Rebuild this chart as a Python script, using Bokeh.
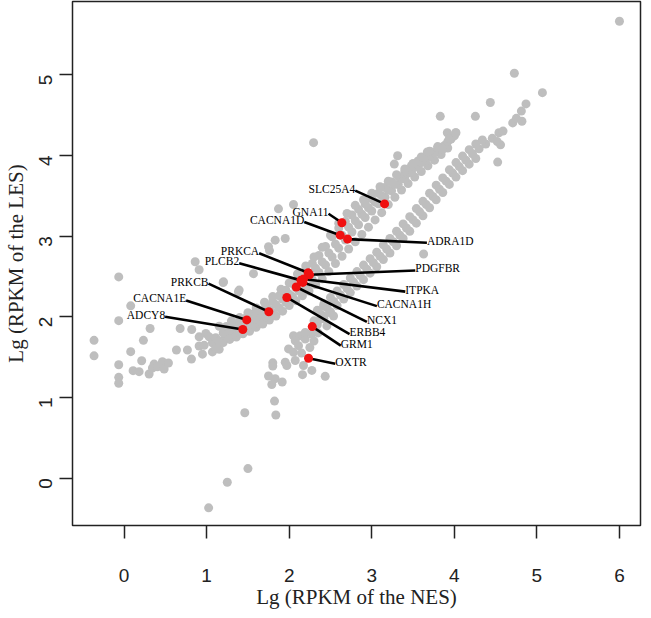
import math
from bokeh.plotting import figure
from bokeh.models import Range1d, FixedTicker, ColumnDataSource
from bokeh.embed import file_html
from bokeh.resources import INLINE
from bokeh.core.properties import value

# ---------------- data ----------------
# sparse genes left of / below the upper band
sparse_x = [-0.364, -0.364, -0.065, -0.065, -0.065, -0.065, -0.065, 0.08, 0.08, 0.109, 0.182, 0.213, 0.234, 0.303,
            0.315, 0.343, 0.364, 0.404, 0.464, 0.485, 0.537, 0.634, 0.679, 0.767, 0.816, 0.819, 0.909, 0.909, 0.949,
            0.97, 0.99, 1.03, 1.07, 1.07, 1.11, 1.11, 1.152, 1.152, 1.152, 1.212, 1.232, 1.273, 1.313, 1.353, 1.434]
sparse_y = [1.708, 1.516, 2.494, 1.952, 1.406, 1.25, 1.177, 2.136, 1.568, 1.333, 1.32, 1.455, 1.708, 1.292,
            1.855, 1.366, 1.414, 1.381, 1.443, 1.353, 1.427, 1.589, 1.855, 1.589, 1.476, 1.842, 1.752, 1.638, 1.537,
            1.646, 1.793, 1.752, 1.678, 1.565, 1.74, 1.617, 1.699, 1.598, 1.883, 1.72, 1.842, 1.793, 1.862, 1.781, 1.793]

# upper (LES-enriched) band
upper_x = [1.20, 1.28, 1.36, 1.44, 1.52, 1.60, 1.68, 1.76, 1.84, 1.92, 2.00, 2.08, 2.16, 2.24, 2.32, 2.40, 2.48,
           2.56, 2.64, 2.72, 2.80, 2.88, 2.96, 3.04, 3.12, 3.20, 3.28, 3.36, 3.44, 3.52, 3.60, 3.68, 3.76, 3.84,
           3.92,
           1.24, 1.32, 1.40, 1.48, 1.56, 1.64, 1.72, 1.80, 1.88, 1.96, 2.04, 2.12, 2.20, 2.28, 2.36, 2.44, 2.52,
           2.60, 2.68, 2.76, 2.84, 2.92, 3.00, 3.08, 3.16, 3.24, 3.32, 3.40, 3.48, 3.56, 3.64, 3.72, 3.80, 3.88,
           3.96,
           1.20, 1.28, 1.36, 1.44, 1.52, 1.60, 1.68, 1.76, 1.84, 1.92, 2.00, 2.08, 2.16, 2.24, 2.32, 2.40, 2.48,
           2.56, 2.64, 2.72, 2.80, 2.88, 2.96, 3.04, 3.12, 3.20, 3.28, 3.36, 3.44, 3.52, 3.60, 3.68, 3.76, 3.84,
           3.92, 4.00,
           1.24, 1.32, 1.40, 1.48, 1.56, 1.64, 1.72, 1.80, 1.88, 1.96, 2.04, 2.12, 2.20, 2.28, 2.36, 2.44, 2.52,
           2.60, 2.68, 2.76, 2.84, 2.92, 3.00, 3.08, 3.16, 3.24, 3.32, 3.40, 3.48, 3.56, 3.64, 3.72, 3.80,
           1.30, 1.40, 1.50, 1.60, 1.70, 1.80, 1.90, 2.00, 2.10, 2.20, 2.30, 2.40, 2.50, 2.60, 2.70, 2.80, 2.90,
           3.00, 3.10, 3.20, 3.30, 3.40, 3.50, 3.60, 3.70,
           3.915, 3.94, 3.798, 3.858, 3.673, 4.02]
upper_y = [1.68, 1.72, 1.75, 1.79, 1.82, 1.87, 1.91, 1.96, 2.01, 2.07, 2.14, 2.20, 2.26, 2.32, 2.40, 2.47, 2.56,
           2.66, 2.75, 2.84, 2.93, 3.02, 3.11, 3.20, 3.29, 3.39, 3.48, 3.57, 3.65, 3.73, 3.80, 3.87, 3.94, 4.01,
           4.09,
           1.75, 1.78, 1.82, 1.86, 1.90, 1.95, 2.00, 2.05, 2.11, 2.18, 2.25, 2.32, 2.38, 2.46, 2.55, 2.64, 2.74,
           2.85, 2.95, 3.05, 3.14, 3.23, 3.31, 3.40, 3.48, 3.56, 3.64, 3.71, 3.79, 3.86, 3.92, 3.99, 4.05, 4.12,
           4.20,
           1.80, 1.83, 1.87, 1.90, 1.94, 1.99, 2.04, 2.09, 2.15, 2.22, 2.28, 2.36, 2.43, 2.51, 2.60, 2.68, 2.79,
           2.90, 3.01, 3.11, 3.19, 3.27, 3.35, 3.42, 3.50, 3.57, 3.64, 3.71, 3.78, 3.85, 3.91, 3.97, 4.03, 4.10,
           4.17, 4.24,
           1.88, 1.91, 1.95, 1.99, 2.03, 2.08, 2.13, 2.19, 2.26, 2.33, 2.41, 2.49, 2.57, 2.66, 2.76, 2.87, 2.99,
           3.10, 3.18, 3.26, 3.33, 3.40, 3.46, 3.53, 3.60, 3.67, 3.74, 3.80, 3.87, 3.93, 3.98, 4.04, 4.09,
           1.95, 1.99, 2.05, 2.11, 2.18, 2.25, 2.34, 2.42, 2.53, 2.63, 2.74, 2.86, 3.01, 3.16, 3.28, 3.38, 3.45,
           3.53, 3.61, 3.68, 3.76, 3.83, 3.90, 3.98, 4.05,
           4.279, 4.205, 4.108, 4.075, 4.042, 4.28]

# lower (NES-enriched) band
lower_x = [2.34, 2.42, 2.50, 2.58, 2.66, 2.74, 2.82, 2.90, 2.98, 3.06, 3.14, 3.22, 3.30, 3.38, 3.46, 3.54, 3.62,
           3.70, 3.78, 3.86, 3.94, 4.02, 4.10, 4.18, 4.26,
           2.30, 2.38, 2.46, 2.54, 2.62, 2.70, 2.78, 2.86, 2.94, 3.02, 3.10, 3.18, 3.26, 3.34, 3.42, 3.50, 3.58,
           3.66, 3.74, 3.82, 3.90, 3.98, 4.06, 4.14, 4.22, 4.30, 4.38,
           2.34, 2.42, 2.50, 2.58, 2.66, 2.74, 2.82, 2.90, 2.98, 3.06, 3.14, 3.22, 3.30, 3.38, 3.46, 3.54, 3.62,
           3.70, 3.78, 3.86, 3.94, 4.02, 4.10, 4.18, 4.26, 4.34,
           4.46, 4.52, 4.56, 4.54, 4.59, 4.707, 4.751, 4.819, 4.812, 4.868, 5.067, 4.525,
           2.416, 2.497, 2.537, 2.416, 2.376, 2.456]
lower_y = [1.90, 1.98, 2.06, 2.14, 2.22, 2.30, 2.38, 2.46, 2.54, 2.62, 2.71, 2.79, 2.88, 2.97, 3.06, 3.16, 3.25,
           3.35, 3.45, 3.54, 3.64, 3.73, 3.81, 3.89, 3.96,
           1.95, 2.03, 2.11, 2.19, 2.27, 2.35, 2.43, 2.51, 2.59, 2.67, 2.75, 2.84, 2.93, 3.01, 3.10, 3.20, 3.30,
           3.39, 3.49, 3.58, 3.68, 3.78, 3.86, 3.94, 4.02, 4.08, 4.14,
           2.08, 2.16, 2.24, 2.32, 2.40, 2.48, 2.56, 2.64, 2.72, 2.80, 2.89, 2.97, 3.06, 3.15, 3.24, 3.34, 3.43,
           3.53, 3.63, 3.72, 3.82, 3.91, 3.99, 4.07, 4.14, 4.19,
           4.21, 4.17, 4.13, 4.28, 4.30, 4.401, 4.458, 4.422, 4.548, 4.637, 4.776, 3.916,
           2.132, 2.05, 2.01, 2.01, 1.969, 1.887]

# genes below the junction and the low tail
tail_x = [2.052, 2.133, 2.194, 2.073, 2.113, 2.194, 2.274, 1.992, 2.052, 1.952, 2.073, 1.971, 1.801, 1.801, 2.173,
          2.274, 2.161, 2.436, 1.749, 1.83, 1.789, 1.915, 1.822, 1.462, 1.838, 2.30, 2.35, 2.25, 2.15,
          1.50, 1.25, 1.024]
tail_y = [1.765, 1.765, 1.724, 1.703, 1.642, 1.805, 1.786, 1.602, 1.56, 1.438, 1.458, 1.397, 1.43, 1.389, 1.397,
          1.336, 1.283, 1.262, 1.266, 1.234, 1.161, 1.192, 0.956, 0.812, 0.784, 1.70, 1.80, 1.62, 1.55,
          0.12, -0.05, -0.366]

# isolated genes
outlier_x = [2.295, 3.83, 4.255, 4.436, 4.727, 3.313, 3.273, 4.016, 1.87, 2.052, 1.952, 1.83, 1.749, 1.761, 1.567,
             1.204, 1.385, 0.861, 0.909, 1.2, 1.394, 6.0, 3.628]
outlier_y = [4.157, 4.483, 4.483, 4.654, 5.016, 3.994, 3.891, 4.279, 3.337, 3.391, 2.969, 2.949, 2.869, 2.82, 2.534,
             2.433, 2.31, 2.681, 2.583, 2.424, 2.331, 5.66, 2.778]

# highlighted genes (red)
genes = ["SLC25A4", "GNA11", "CACNA1D", "ADRA1D", "PRKCA", "PLCB2", "PDGFBR", "ITPKA",
         "CACNA1H", "NCX1", "ERBB4", "PRKCB", "CACNA1E", "ADCY8", "GRM1", "OXTR"]
gene_x = [3.155, 2.638, 2.618, 2.707, 2.23, 2.141, 2.246, 2.173, 2.165, 2.085, 1.971, 1.753, 1.486, 1.438, 2.279, 2.234]
gene_y = [3.398, 3.165, 3.011, 2.962, 2.545, 2.451, 2.521, 2.467, 2.426, 2.369, 2.239, 2.063, 1.961, 1.842, 1.879, 1.487]

# label anchor (where the leader line starts) and side
label_x = [2.80, 2.476, 2.182, 3.668, 1.636, 1.394, 3.527, 3.406, 3.062, 2.941, 2.731, 1.022, 0.752, 0.497, 2.625, 2.558]
label_y = [3.563, 3.276, 3.174, 2.917, 2.786, 2.663, 2.574, 2.312, 2.132, 1.936, 1.786, 2.41, 2.202, 2.001, 1.642, 1.418]
label_align = ["right", "right", "right", "left", "right", "right", "left", "left",
               "left", "left", "left", "right", "right", "right", "left", "left"]

x_ticks = [0, 1, 2, 3, 4, 5, 6]
y_ticks = [0, 1, 2, 3, 4, 5]

# ---------------- figure ----------------
gx = sparse_x + upper_x + lower_x + tail_x + outlier_x
gy = sparse_y + upper_y + lower_y + tail_y + outlier_y

p = figure(frame_width=568, frame_height=524,
           x_range=Range1d(-0.625, 6.255), y_range=Range1d(-0.585, 5.905),
           output_backend="svg", toolbar_location=None,
           min_border_left=71, min_border_right=4, min_border_top=1, min_border_bottom=80)
p.background_fill_color = "white"
p.border_fill_color = "white"
p.xgrid.visible = False
p.ygrid.visible = False
p.outline_line_color = "#222222"
p.outline_line_width = 1.5

p.scatter(gx, gy, size=9, color="#BEBEBE", line_color=None)

src = ColumnDataSource(dict(gx=gene_x, gy=gene_y, lx=label_x, ly=label_y, name=genes, align=label_align))
p.segment(x0="lx", y0="ly", x1="gx", y1="gy", source=src, line_color="black", line_width=2.6)
p.scatter("gx", "gy", source=src, size=9, color="#F01010", line_color=None)
p.text(x="lx", y="ly", text="name", source=src, text_align="align", text_baseline="bottom",
       y_offset=4, x_offset=0,
       text_font=value("Liberation Serif"), text_font_size="11.5px", text_color="black")

for ax in (p.xaxis[0], p.yaxis[0]):
    ax.minor_tick_line_color = None
    ax.major_tick_in = 0
    ax.major_tick_out = 13
    ax.major_tick_line_color = "#222222"
    ax.major_tick_line_width = 1.5
    ax.axis_line_color = None
    ax.major_label_text_font = "Liberation Sans"
    ax.major_label_text_font_size = "19px"
    ax.major_label_text_color = "#222222"
    ax.axis_label_text_font = "Liberation Serif"
    ax.axis_label_text_font_size = "21px"
    ax.axis_label_text_font_style = "normal"
    ax.axis_label_text_color = "#222222"

p.xaxis.ticker = FixedTicker(ticks=x_ticks)
p.yaxis.ticker = FixedTicker(ticks=y_ticks)
p.xaxis.axis_label = "Lg (RPKM of the NES)"
p.yaxis.axis_label = "Lg (RPKM of the LES)"
p.xaxis.major_label_standoff = 30
p.xaxis.axis_label_standoff = 0
p.yaxis.major_label_orientation = math.pi / 2
p.yaxis.major_label_standoff = 14
p.yaxis.axis_label_standoff = 2

open("out.html", "w").write(file_html(p, INLINE))
